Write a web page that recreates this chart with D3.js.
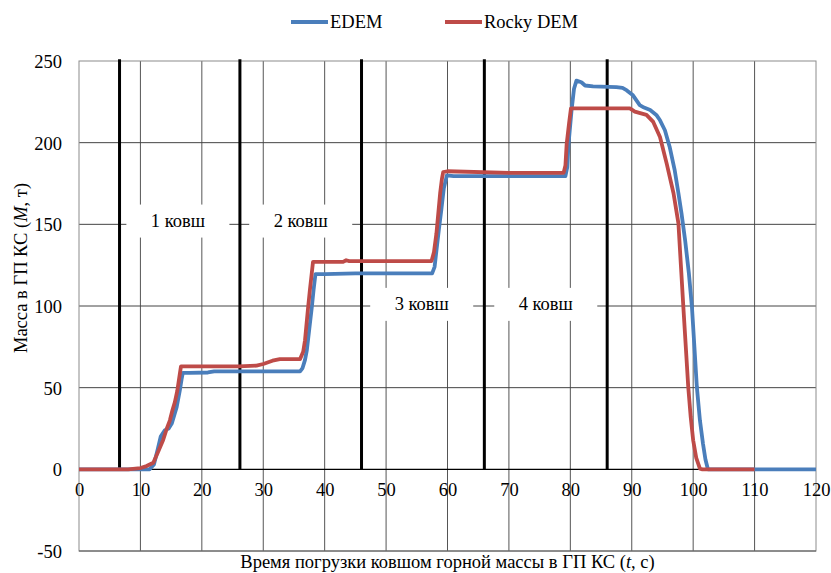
<!DOCTYPE html>
<html>
<head>
<meta charset="utf-8">
<script src="https://cdn.jsdelivr.net/npm/d3@7"></script>
<style>
  body { margin: 0; background: #fff; }
  svg { display: block; font-family: "Liberation Serif", "Times New Roman", serif; }
  .tick text { font-size: 18.5px; fill: #000; font-family: "Liberation Serif", "Times New Roman", serif; }
</style>
</head>
<body>
<svg width="831" height="573"></svg>
<script>
// EDEM series (time, mass)
const edemT = [0, 5, 10, 11.5, 12.2, 12.8, 13.3, 14, 14.6, 15.1, 15.5, 15.9, 16.4, 16.7, 16.9, 18, 21, 22, 30, 36,
  36.4, 36.8, 37.1, 37.5, 37.9, 38.2, 38.5, 40, 45, 50, 57.5, 57.9, 58.2, 58.6, 59, 59.4, 59.9, 61, 70, 79.2,
  79.5, 79.7, 80.2, 80.6, 81, 81.8, 82.4, 83.7, 87.5, 88.5, 89.2, 90.2, 91.3, 92, 93, 94, 94.6, 95.4, 96.2, 97,
  97.6, 98.1, 98.7, 99.3, 99.8, 100.2, 100.6, 101.1, 101.6, 102, 102.4, 110, 120];
const edemM = [0, 0, 0, 0, 3, 12, 20, 24, 25, 28, 33, 38, 48, 55, 59, 59, 59.3, 60, 60, 60,
  62, 67, 73, 86, 99, 110, 119.5, 119.5, 120, 120, 120, 124, 134, 147, 159, 172, 180, 179.5, 179.5, 179.5,
  185, 199, 220, 233, 238, 237, 235, 234.5, 234, 233.5, 232, 229, 223, 221.5, 220, 217, 213.7, 207.6, 197, 183,
  169, 156.7, 140, 120, 99.4, 75, 50.4, 30, 15.7, 6, 0, 0, 0];

// Rocky DEM series (time, mass)
const rockyT = [0, 5, 8, 10, 11, 12.1, 12.8, 13.7, 14.3, 14.8, 15.2, 15.6, 16, 16.2, 16.4, 16.6, 20, 26, 28.9, 30,
  31.5, 32.7, 36, 36.5, 36.8, 37.3, 37.6, 37.9, 38.1, 43, 43.5, 44, 57.4, 57.8, 58.2, 58.8, 59.1, 59.3, 60, 70,
  78.9, 79.2, 79.4, 79.8, 80.1, 85, 89.7, 90.5, 92.4, 93.5, 94.6, 95.7, 96.8, 97.6, 98, 98.4, 98.8, 99.2, 99.6, 100,
  100.5, 101.1, 101.5, 110];
const rockyM = [0, 0, 0, 0.8, 2, 4, 10, 18, 25, 30, 36, 41, 48, 53, 58, 63, 63, 63, 63.5, 64.5,
  66.5, 67.5, 67.5, 72, 79, 99, 110, 120, 127, 127, 128, 127.5, 127.5, 133, 144.5, 169, 178, 182, 182.5, 181.5,
  181.5, 186, 199, 212, 221, 221, 221, 219, 217, 212.7, 203.5, 187, 169, 150.6, 125, 99.4, 75, 50.4, 32, 17.8,
  7, 0.4, 0, 0];

// bucket boundaries (vertical black lines) and labels
const bucketT = [6.6, 26.2, 46.0, 66.0, 86.0];
const bucketLabels = ["1 ковш", "2 ковш", "3 ковш", "4 ковш"];
const labelT = [16.1, 36.1, 55.8, 76.0];
const labelM = [152, 152, 101, 101];

const xTicks = [0, 10, 20, 30, 40, 50, 60, 70, 80, 90, 100, 110, 120];
const yTicks = [-50, 0, 50, 100, 150, 200, 250];

const seriesNames = ["EDEM", "Rocky DEM"];
const seriesColors = ["#4a7ebb", "#be4b48"];

const svg = d3.select("svg");

const x = d3.scaleLinear().domain([0, 120]).range([79, 816]);
const y = d3.scaleLinear().domain([-50, 250]).range([551, 61]);

// grid
svg.append("g").selectAll("line")
  .data(xTicks.filter(d => d > 0 && d < 120))
  .enter().append("line")
  .attr("x1", d => x(d)).attr("x2", d => x(d))
  .attr("y1", y(250)).attr("y2", y(-50))
  .attr("stroke", "#555").attr("stroke-width", 1);

svg.append("g").selectAll("line")
  .data(yTicks.filter(d => d > -50 && d < 250 && d !== 0))
  .enter().append("line")
  .attr("x1", x(0)).attr("x2", x(120))
  .attr("y1", d => y(d)).attr("y2", d => y(d))
  .attr("stroke", "#444").attr("stroke-width", 1);

// plot border
svg.append("rect")
  .attr("x", x(0)).attr("y", y(250))
  .attr("width", x(120) - x(0)).attr("height", y(-50) - y(250))
  .attr("fill", "none").attr("stroke", "#8c8c8c").attr("stroke-width", 1);

svg.append("line")
  .attr("x1", x(0)).attr("x2", x(120))
  .attr("y1", y(-50)).attr("y2", y(-50))
  .attr("stroke", "#555");

// x axis line at zero
svg.append("line")
  .attr("x1", x(0)).attr("x2", x(120))
  .attr("y1", y(0)).attr("y2", y(0))
  .attr("stroke", "#000").attr("stroke-width", 1.3);

// label boxes (white) hide the grid
const boxW = 103, boxH = 33;
svg.append("g").selectAll("rect")
  .data(bucketLabels)
  .enter().append("rect")
  .attr("x", (d, i) => x(labelT[i]) - boxW / 2)
  .attr("y", (d, i) => y(labelM[i]) - boxH / 2)
  .attr("width", boxW).attr("height", boxH)
  .attr("fill", "#fff");

// bucket boundary lines
svg.append("g").selectAll("line")
  .data(bucketT)
  .enter().append("line")
  .attr("x1", d => x(d)).attr("x2", d => x(d))
  .attr("y1", y(251)).attr("y2", y(0))
  .attr("stroke", "#000").attr("stroke-width", 3);

svg.append("g").selectAll("text")
  .data(bucketLabels)
  .enter().append("text")
  .attr("x", (d, i) => x(labelT[i]))
  .attr("y", (d, i) => y(labelM[i]) + 6)
  .attr("text-anchor", "middle")
  .attr("font-size", 18.5)
  .text(d => d);

// axes (labels only)
const yAxis = svg.append("g")
  .attr("transform", `translate(${x(0) - 17},0)`)
  .call(d3.axisLeft(y).tickValues(yTicks).tickSize(0).tickPadding(0).tickFormat(d => String(d)));
yAxis.select(".domain").remove();
yAxis.selectAll("text").attr("dy", "0.35em");

const xAxis = svg.append("g")
  .attr("transform", `translate(0,${y(0) + 14})`)
  .call(d3.axisBottom(x).tickValues(xTicks).tickSize(0).tickPadding(0));
xAxis.select(".domain").remove();
xAxis.selectAll("text").attr("dy", "0.71em");

// series
const line = d3.line().x(d => x(d[0])).y(d => y(d[1]));
const edemData = edemT.map((t, i) => [t, edemM[i]]);
const rockyData = rockyT.map((t, i) => [t, rockyM[i]]);

svg.append("path")
  .datum(edemData)
  .attr("d", line)
  .attr("fill", "none")
  .attr("stroke", seriesColors[0])
  .attr("stroke-width", 3.8)
  .attr("stroke-linejoin", "round");

svg.append("path")
  .datum(rockyData)
  .attr("d", line)
  .attr("fill", "none")
  .attr("stroke", seriesColors[1])
  .attr("stroke-width", 3.8)
  .attr("stroke-linejoin", "round");

// legend
const legendX = [291, 445];
const legend = svg.append("g").selectAll("g")
  .data(seriesNames)
  .enter().append("g")
  .attr("transform", (d, i) => `translate(${legendX[i]},22)`);
legend.append("line")
  .attr("x1", 0).attr("x2", 37)
  .attr("stroke", (d, i) => seriesColors[i])
  .attr("stroke-width", 4);
legend.append("text")
  .attr("x", 39).attr("y", 6)
  .attr("font-size", 18.5)
  .text(d => d);

// axis titles
const yTitle = svg.append("text")
  .attr("transform", "translate(27,268) rotate(-90)")
  .attr("text-anchor", "middle")
  .attr("font-size", 18.5);
yTitle.append("tspan").text("Масса в ГП КС (");
yTitle.append("tspan").attr("font-style", "italic").text("M");
yTitle.append("tspan").text(", т)");

const xTitle = svg.append("text")
  .attr("x", (x(0) + x(120)) / 2)
  .attr("y", 568)
  .attr("text-anchor", "middle")
  .attr("font-size", 18.5);
xTitle.append("tspan").text("Время погрузки ковшом горной массы в ГП КС (");
xTitle.append("tspan").attr("font-style", "italic").text("t");
xTitle.append("tspan").text(", с)");
</script>
</body>
</html>
